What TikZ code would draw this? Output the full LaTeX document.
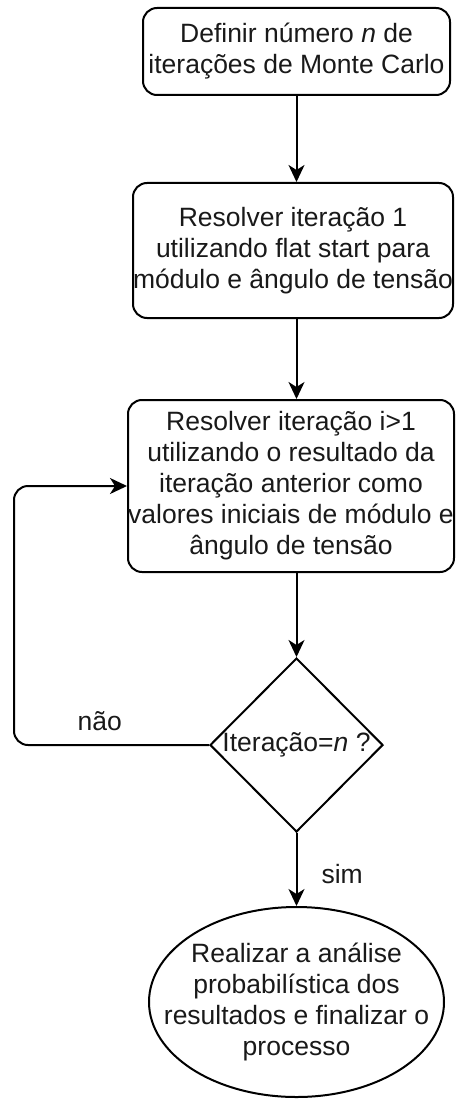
\documentclass[tikz,border=0pt]{standalone}
\usepackage{fontspec}
\setmainfont{Liberation Sans}
\usetikzlibrary{arrows.meta,positioning,calc,shapes.geometric}

\begin{document}
\begin{tikzpicture}[x=1pt,y=-1pt,line width=2pt,
	font=\fontsize{26.5}{31}\selectfont,
	every node/.style={align=center,inner sep=0pt,text=black!90},
	caixa/.style={draw,rounded corners=14pt},
	seta/.style={-{Stealth[length=17pt,width=16pt,inset=5pt]}}]
	\useasboundingbox (0,0) rectangle (455,1099);
	\node[caixa,minimum width=307,minimum height=87] (definir) at (296.5,51.5) {Definir número \textit{n} de\\iterações de Monte Carlo};
	\node[caixa,minimum width=320,minimum height=135] (resolver1) at (293,250.5) {Resolver iteração 1\\utilizando flat start para\\módulo e ângulo de tensão};
	\node[caixa,minimum width=326,minimum height=172] (resolver2) at (291,486) {Resolver iteração i>1\\utilizando o resultado da\\iteração anterior como\\valores iniciais de módulo e\\ângulo de tensão};
	\node[draw,diamond,minimum width=173,minimum height=174] (decisao) at (296.5,745) {Iteração=\textit{n} ?};
	\node[draw,ellipse,inner xsep=-30pt,minimum width=295,minimum height=190] (fim) at (296.5,1002) {Realizar a análise\\probabilística dos\\resultados e finalizar o\\processo};
	\coordinate (volta) at (14,745);
	\draw[seta] (definir.south) -- (definir.south |- resolver1.north);
	\draw[seta] (resolver1.south -| decisao.north) -- (resolver2.north -| decisao.north);
	\draw[seta] (resolver2.south -| decisao.north) -- (decisao.north);
	\draw[seta] (decisao.south) -- node[right=24pt,pos=0.56]{sim} (fim.north);
	\draw[seta,rounded corners=14pt] (decisao.west) -- node[above=13pt,pos=0.56]{não} (volta) |- (resolver2.west);
\end{tikzpicture}
\end{document}
